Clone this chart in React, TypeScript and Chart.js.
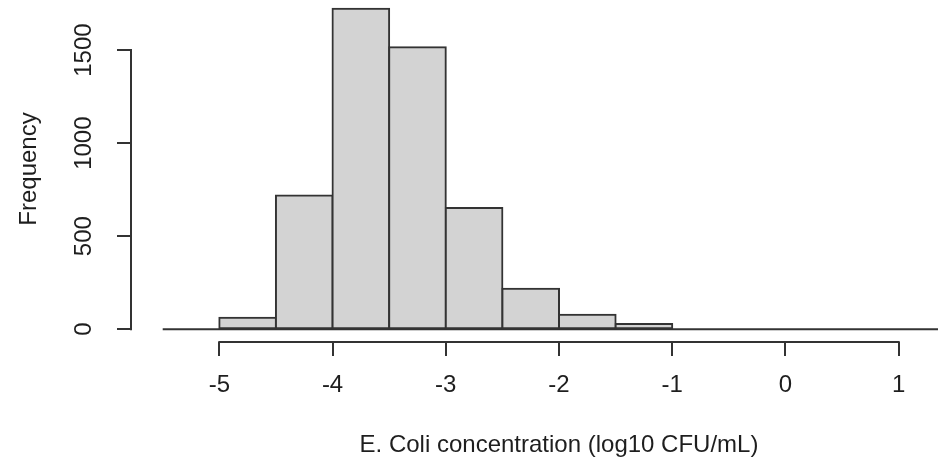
import React, { useEffect, useRef } from "react";
import { Chart, registerables } from "chart.js";

Chart.register(...registerables);

// ---- data ----
const BIN_EDGES = [-5.5, -5, -4.5, -4, -3.5, -3, -2.5, -2, -1.5, -1, -0.5, 0, 0.5, 1, 1.5];
const COUNTS = [0, 61, 719, 1722, 1516, 651, 217, 77, 28, 0, 0, 0, 0, 0];
const X_TICKS = [-5, -4, -3, -2, -1, 0, 1];
const X_TICK_LABELS = ["-5", "-4", "-3", "-2", "-1", "0", "1"];
const Y_TICKS = [0, 500, 1000, 1500];
const Y_TICK_LABELS = ["0", "500", "1000", "1500"];
const X_TITLE = "E. Coli concentration (log10 CFU/mL)";
const Y_TITLE = "Frequency";

// ---- styles ----
const FONT_FAMILY = "'Liberation Sans', Arial, Helvetica, sans-serif";
const FONT_SIZE = 24;
const TEXT_COLOR = "#1e1e1e";
const LINE_COLOR = "#333333";
const LINE_W = 2;
const FILL = "#d3d3d3";

// R-style axis ranges: data range expanded by 4% on each side
const xLo = BIN_EDGES[0];
const xHi = BIN_EDGES[BIN_EDGES.length - 1];
const xPad = (xHi - xLo) * 0.04;
const yHi = Math.max(...COUNTS);
const yPad = yHi * 0.04;

const rAxesPlugin = {
  id: "rAxes",
  afterDraw(chart: any) {
    const { ctx, chartArea, scales } = chart;
    const x = scales.x;
    const y = scales.y;
    ctx.save();
    ctx.strokeStyle = LINE_COLOR;
    ctx.lineWidth = LINE_W;
    ctx.lineCap = "square";
    ctx.beginPath();
    ctx.moveTo(x.getPixelForValue(X_TICKS[0]), chartArea.bottom);
    ctx.lineTo(x.getPixelForValue(X_TICKS[X_TICKS.length - 1]), chartArea.bottom);
    ctx.moveTo(chartArea.left, y.getPixelForValue(Y_TICKS[0]));
    ctx.lineTo(chartArea.left, y.getPixelForValue(Y_TICKS[Y_TICKS.length - 1]));
    ctx.stroke();
    ctx.restore();
  },
};

export default function App() {
  const canvasRef = useRef<HTMLCanvasElement | null>(null);

  useEffect(() => {
    const canvas = canvasRef.current;
    if (!canvas) return;
    const font = { family: FONT_FAMILY, size: FONT_SIZE, lineHeight: 1.2 };

    const barData = COUNTS.map((c, i) => ({
      x: (BIN_EDGES[i] + BIN_EDGES[i + 1]) / 2,
      y: c,
    }));
    const baseData = [
      { x: BIN_EDGES[0], y: 0 },
      { x: BIN_EDGES[BIN_EDGES.length - 1], y: 0 },
    ];

    const chart = new Chart(canvas, {
      type: "bar",
      data: {
        datasets: [
          {
            type: "bar",
            data: barData as any,
            backgroundColor: FILL,
            borderColor: LINE_COLOR,
            borderWidth: LINE_W,
            borderSkipped: false,
            inflateAmount: LINE_W / 2,
            barPercentage: 1,
            categoryPercentage: 1,
            order: 1,
          } as any,
          {
            type: "line",
            data: baseData as any,
            borderColor: LINE_COLOR,
            borderWidth: LINE_W,
            pointRadius: 0,
            fill: false,
            order: 2,
          } as any,
        ],
      },
      options: {
        responsive: false,
        maintainAspectRatio: false,
        devicePixelRatio: 1,
        animation: false,
        events: [],
        layout: { padding: { left: 0, right: 3, top: 0, bottom: 0 } },
        plugins: {
          legend: { display: false },
          tooltip: { enabled: false },
          title: { display: false },
        },
        scales: {
          x: {
            type: "linear",
            min: xLo - xPad,
            max: xHi + xPad,
            offset: false,
            afterBuildTicks: (scale: any) => {
              scale.ticks = X_TICKS.map((v) => ({ value: v }));
            },
            afterFit: (scale: any) => {
              scale.height = 118;
              scale.paddingLeft = 0;
              scale.paddingRight = 0;
            },
            grid: {
              display: true,
              offset: false,
              drawOnChartArea: false,
              drawTicks: true,
              tickLength: 14,
              color: LINE_COLOR,
              lineWidth: LINE_W,
            },
            border: { display: false },
            ticks: {
              autoSkip: false,
              maxRotation: 0,
              minRotation: 0,
              padding: 15,
              color: TEXT_COLOR,
              font,
              callback: (v: any) => {
                const i = X_TICKS.indexOf(Number(v));
                return i >= 0 ? X_TICK_LABELS[i] : "";
              },
            },
            title: {
              display: true,
              text: X_TITLE,
              color: TEXT_COLOR,
              font,
              padding: { top: 0, bottom: 0 },
            },
          },
          y: {
            type: "linear",
            min: -yPad,
            max: yHi + yPad,
            afterBuildTicks: (scale: any) => {
              scale.ticks = Y_TICKS.map((v) => ({ value: v }));
            },
            afterFit: (scale: any) => {
              scale.width = 131;
              scale.paddingTop = 0;
              scale.paddingBottom = 0;
            },
            grid: {
              display: true,
              drawOnChartArea: false,
              drawTicks: true,
              tickLength: 14,
              color: LINE_COLOR,
              lineWidth: LINE_W,
            },
            border: { display: false },
            ticks: {
              autoSkip: false,
              minRotation: 90,
              maxRotation: 90,
              crossAlign: "center",
              padding: 6,
              color: TEXT_COLOR,
              font,
              callback: (v: any) => {
                const i = Y_TICKS.indexOf(Number(v));
                return i >= 0 ? Y_TICK_LABELS[i] : "";
              },
            },
            title: {
              display: true,
              text: Y_TITLE,
              color: TEXT_COLOR,
              font,
              padding: { top: 15, bottom: 0 },
            },
          },
        },
      } as any,
      plugins: [rAxesPlugin],
    });

    return () => chart.destroy();
  }, []);

  return (
    <div
      style={{
        position: "absolute",
        left: 0,
        top: 0,
        width: 938,
        height: 460,
        overflow: "hidden",
        background: "#ffffff",
      }}
    >
      <canvas
        ref={canvasRef}
        width={990}
        height={464}
        style={{ position: "absolute", left: 0, top: -4, width: 990, height: 464 }}
      />
    </div>
  );
}
